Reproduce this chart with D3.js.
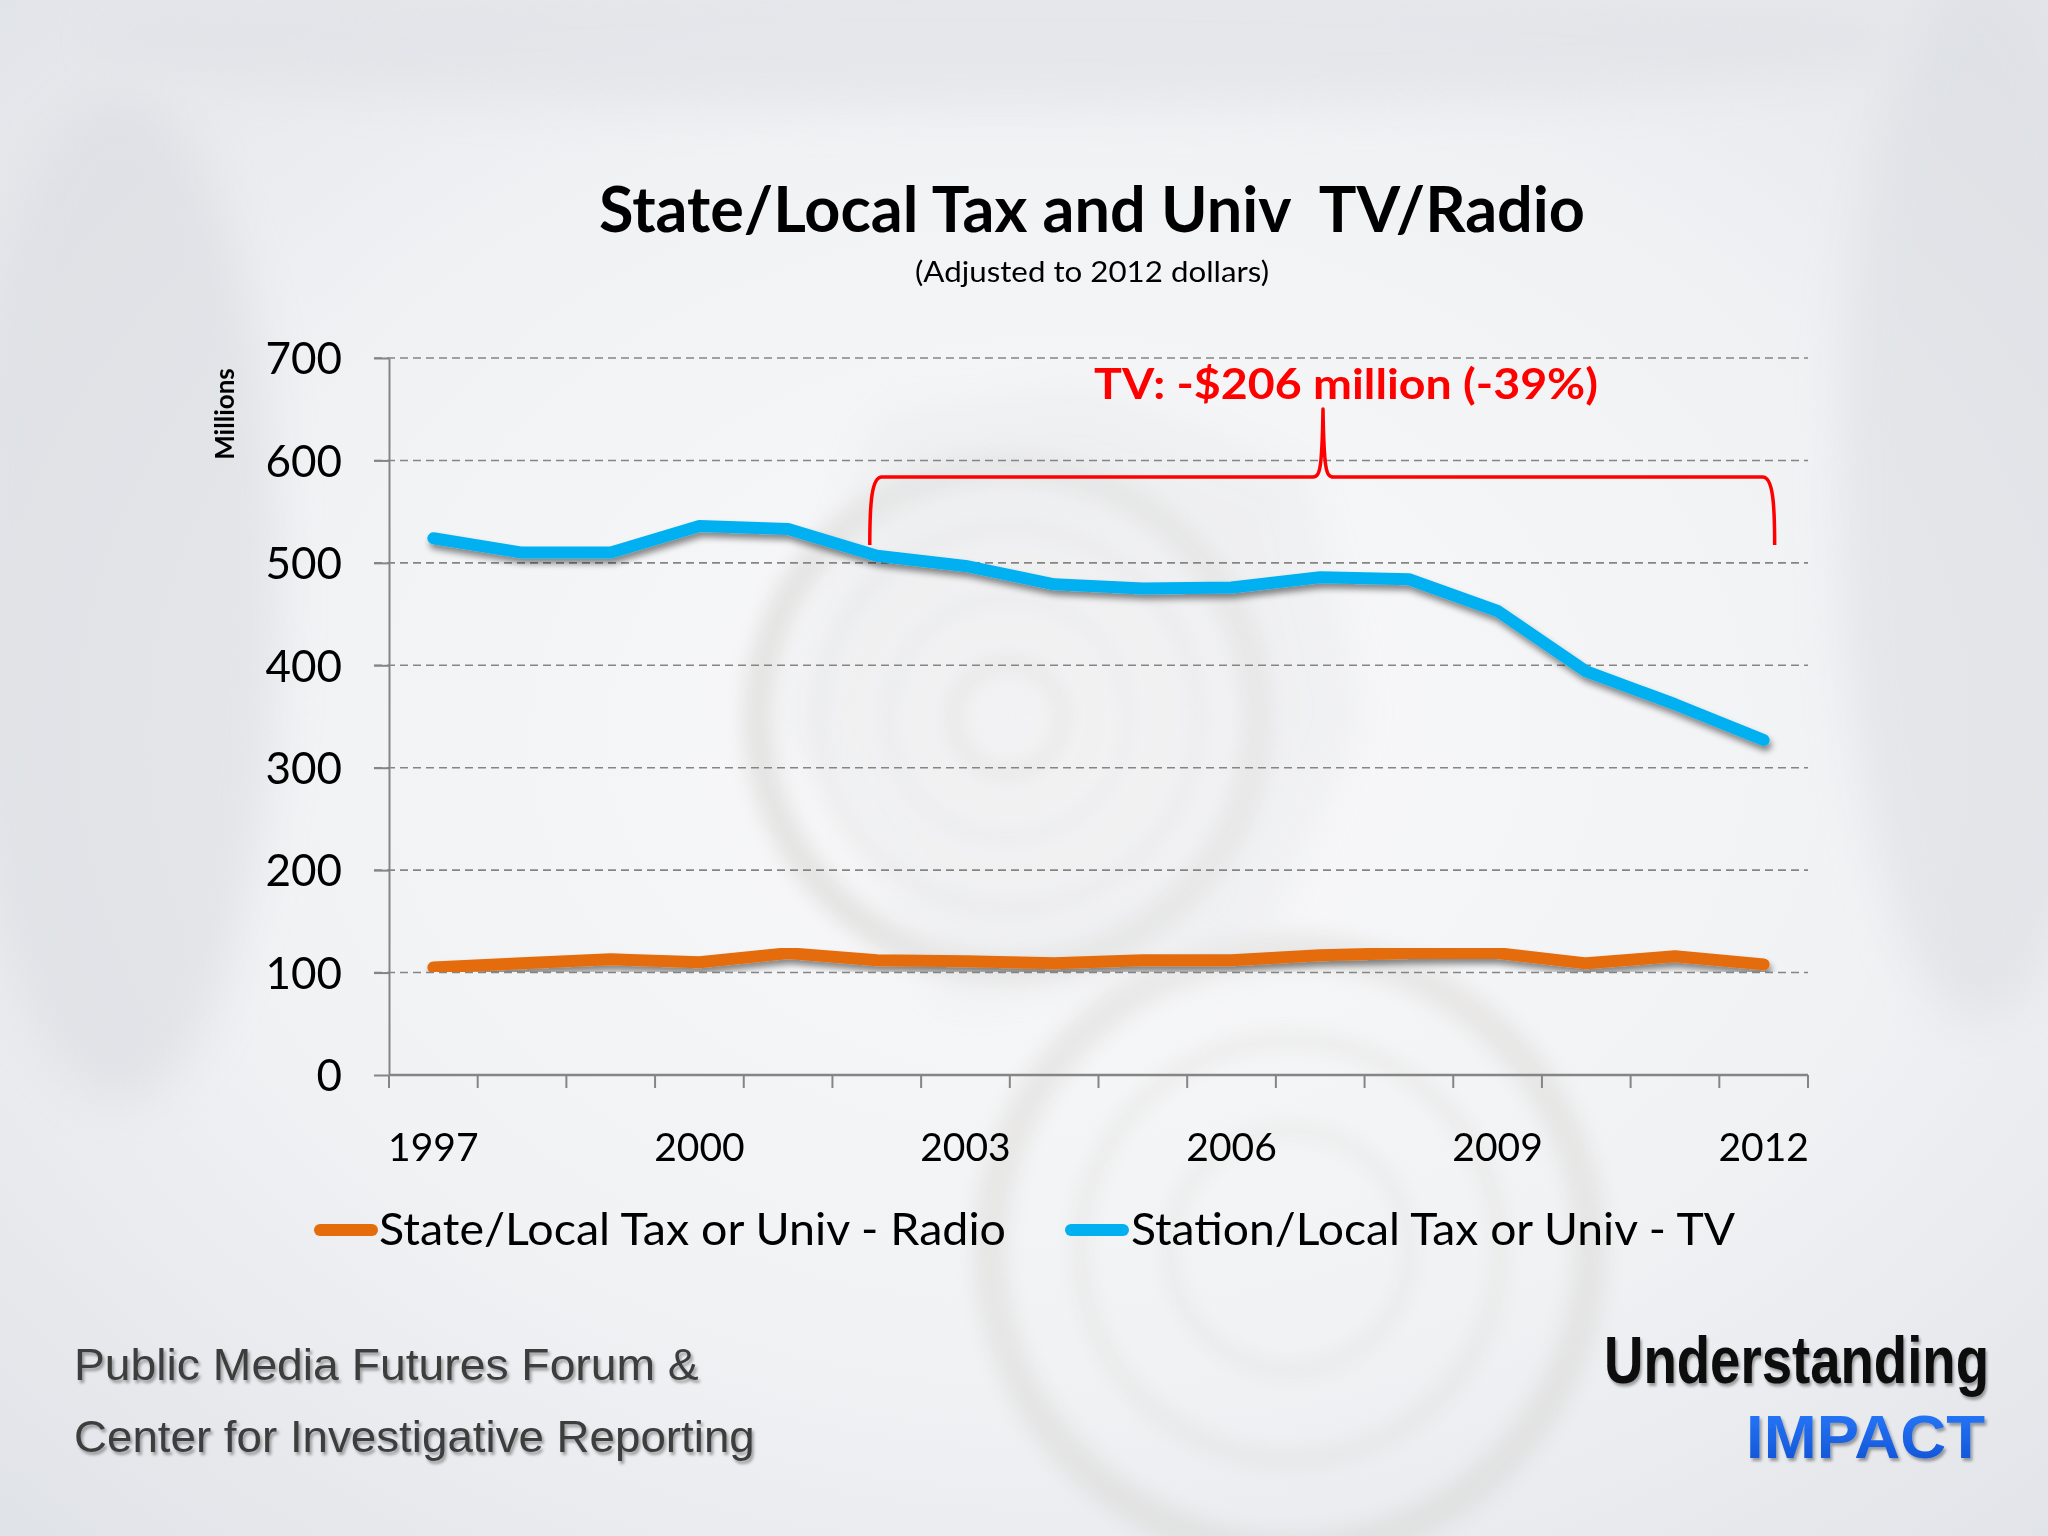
<!DOCTYPE html>
<html>
<head>
<meta charset="utf-8">
<script src="https://cdn.jsdelivr.net/npm/d3@7"></script>
<style>
  html, body { margin: 0; padding: 0; background: #eceef1; }
  svg { display: block; }
</style>
</head>
<body>
<svg id="chart" width="2048" height="1536"></svg>
<script>
// ---------------- DATA ----------------
const years = ["1997","1998","1999","2000","2001","2002","2003","2004","2005","2006","2007","2008","2009","2010","2011","2012"];
const radioValues = [105, 109, 113, 110, 119, 112, 111, 109, 112, 112, 117, 119, 119, 109, 116, 108];
const tvValues    = [524, 510, 510, 536, 533, 507, 497, 479, 475, 476, 486, 484, 453, 394, 362, 327];
const yTickValues = [0, 100, 200, 300, 400, 500, 600, 700];
const xTickLabels = ["1997","2000","2003","2006","2009","2012"];
const seriesNames = ["State/Local Tax or Univ - Radio", "Station/Local Tax or Univ - TV"];
const seriesColors = ["#e46c0a", "#00b0f0"];
const titleText = "State/Local Tax and Univ\u00a0\u00a0TV/Radio";
const subtitleText = "(Adjusted to 2012 dollars)";
const yAxisTitle = "Millions";
const annotationText = "TV: -$206 million (-39%)";
const annotationFrom = "2002", annotationTo = "2012";
const footerLines = ["Public Media Futures Forum &", "Center for Investigative Reporting"];
const logoLines = ["Understanding", "IMPACT"];

// ---------------- SETUP ----------------
const svg = d3.select("#chart");
const W = 2048, H = 1536;
const plot = { left: 389, right: 1808, top: 358, bottom: 1075 };
const FONT = "Lato, 'Open Sans', sans-serif";

const defs = svg.append("defs");

const bg = defs.append("radialGradient").attr("id", "bgGrad")
  .attr("cx", "52%").attr("cy", "48%").attr("r", "75%");
bg.append("stop").attr("offset", "0%").attr("stop-color", "#f9f9fa");
bg.append("stop").attr("offset", "55%").attr("stop-color", "#f1f2f4");
bg.append("stop").attr("offset", "100%").attr("stop-color", "#dfe2e7");

const blur8 = defs.append("filter").attr("id", "blur8").attr("x", "-50%").attr("y", "-50%").attr("width", "200%").attr("height", "200%");
blur8.append("feGaussianBlur").attr("stdDeviation", 9);
const blur20 = defs.append("filter").attr("id", "blur20").attr("x", "-50%").attr("y", "-50%").attr("width", "200%").attr("height", "200%");
blur20.append("feGaussianBlur").attr("stdDeviation", 22);

const shadow = defs.append("filter").attr("id", "lineShadow").attr("x", "-10%").attr("y", "-30%").attr("width", "120%").attr("height", "160%");
shadow.append("feDropShadow").attr("dx", 2).attr("dy", 5).attr("stdDeviation", 3)
  .attr("flood-color", "#000").attr("flood-opacity", 0.45);

const textShadow = defs.append("filter").attr("id", "textShadow")
  .attr("x", "-10%").attr("y", "-40%").attr("width", "120%").attr("height", "180%");
textShadow.append("feDropShadow").attr("dx", 2).attr("dy", 3).attr("stdDeviation", 1.5)
  .attr("flood-color", "#000").attr("flood-opacity", 0.35);

const impactGrad = defs.append("linearGradient").attr("id", "impactGrad").attr("x1", 0).attr("y1", 0).attr("x2", 0).attr("y2", 1);
impactGrad.append("stop").attr("offset", "0%").attr("stop-color", "#2a7dff");
impactGrad.append("stop").attr("offset", "100%").attr("stop-color", "#0f4fd0");

// background
svg.append("rect").attr("width", W).attr("height", H).attr("fill", "url(#bgGrad)");
const deco = svg.append("g").attr("opacity", 0.5);
deco.append("ellipse").attr("cx", 120).attr("cy", 600).attr("rx", 160).attr("ry", 500).attr("fill", "#d6d9df").attr("filter", "url(#blur20)");
deco.append("ellipse").attr("cx", 1980).attr("cy", 500).attr("rx", 140).attr("ry", 520).attr("fill", "#d8dbe1").attr("filter", "url(#blur20)");
deco.append("ellipse").attr("cx", 1000).attr("cy", 40).attr("rx", 900).attr("ry", 70).attr("fill", "#dcdfe4").attr("filter", "url(#blur20)");
const rings = svg.append("g").attr("opacity", 0.28);
const ring1 = rings.append("g").attr("filter", "url(#blur8)");
[[1008, 718, 250, 30, "#b9b8b0"], [1008, 718, 190, 10, "#cfcdc6"], [1008, 718, 120, 10, "#d3d1ca"],
 [1008, 718, 55, 14, "#bdb9ae"], [1008, 718, 15, 10, "#ffffff"]].forEach(d => {
  ring1.append("circle").attr("cx", d[0]).attr("cy", d[1]).attr("r", d[2])
    .attr("fill", "none").attr("stroke", d[4]).attr("stroke-width", d[3]);
});
const ring2 = rings.append("g").attr("filter", "url(#blur8)");
[[1290, 1250, 300, 34, "#c9c7c0"], [1290, 1250, 210, 14, "#d3d1ca"], [1290, 1250, 120, 12, "#d6d4ce"]].forEach(d => {
  ring2.append("circle").attr("cx", d[0]).attr("cy", d[1]).attr("r", d[2])
    .attr("fill", "none").attr("stroke", d[4]).attr("stroke-width", d[3]);
});
rings.append("path").attr("d", "M880,420 L1080,390 L1300,470 L1360,720 L1250,960 L950,1000 L780,720 Z")
  .attr("fill", "#c8cace").attr("opacity", 0.5).attr("filter", "url(#blur20)");

// Fit a text to a target width with a horizontal scale transform (keeps glyph box consistent)
function fitScale(parent, px, py, anchor, width, attrs, str) {
  const g = parent.append("g").attr("transform", `translate(${px},${py})`);
  const t = g.append("text").attr("x", 0).attr("y", 0).attr("text-anchor", anchor);
  Object.entries(attrs).forEach(([k, v]) => t.attr(k, v));
  t.text(str);
  const w = t.node().getComputedTextLength();
  if (w > 0) t.attr("transform", `scale(${width / w},1)`);
  return g;
}
function fit(sel, width) {
  sel.attr("textLength", width).attr("lengthAdjust", "spacingAndGlyphs");
  return sel;
}

// ---------------- SCALES ----------------
const x = d3.scaleBand().domain(years).range([plot.left, plot.right]).padding(0);
const y = d3.scaleLinear().domain([0, 700]).range([plot.bottom, plot.top]);
const cx = d => x(d) + x.bandwidth() / 2;

// ---------------- TITLE ----------------
fit(svg.append("text").attr("x", 1092).attr("y", 232).attr("text-anchor", "middle")
  .attr("font-family", FONT).attr("font-weight", 700).attr("font-size", 64).attr("fill", "#000")
  .text(titleText), 986);
fit(svg.append("text").attr("x", 1092).attr("y", 282).attr("text-anchor", "middle")
  .attr("font-family", FONT).attr("font-size", 28).attr("fill", "#000")
  .text(subtitleText), 354);

// ---------------- GRID ----------------
svg.append("g").selectAll("line").data(yTickValues.filter(v => v > 0)).join("line")
  .attr("x1", plot.left - 15).attr("x2", plot.right)
  .attr("y1", d => y(d)).attr("y2", d => y(d))
  .attr("stroke", "#858585").attr("stroke-width", 1.6).attr("stroke-dasharray", "8,5");

// ---------------- Y AXIS ----------------
const yAxis = svg.append("g").attr("transform", `translate(${plot.left},0)`)
  .call(d3.axisLeft(y).tickValues(yTickValues).tickSize(15).tickPadding(32).tickSizeOuter(0));
yAxis.select(".domain").attr("stroke", "#858585").attr("stroke-width", 2);
yAxis.selectAll(".tick line").attr("stroke", "#858585").attr("stroke-width", 2);
yAxis.selectAll(".tick text").attr("font-family", FONT).attr("font-size", 44).attr("fill", "#000").attr("dy", "0.36em");

svg.append("text").attr("transform", "translate(234,414) rotate(-90)").attr("text-anchor", "middle")
  .attr("font-family", FONT).attr("font-weight", 700).attr("font-size", 26).attr("fill", "#000")
  .text(yAxisTitle);

// ---------------- X AXIS ----------------
const xAxisG = svg.append("g").attr("transform", `translate(0,${plot.bottom})`);
xAxisG.append("line").attr("x1", plot.left).attr("x2", plot.right).attr("y1", 0).attr("y2", 0)
  .attr("stroke", "#858585").attr("stroke-width", 2.5);
const boundaries = years.map(d => x(d)).concat([x(years[years.length - 1]) + x.bandwidth()]);
xAxisG.selectAll("line.tk").data(boundaries).join("line").attr("class", "tk")
  .attr("x1", d => d).attr("x2", d => d).attr("y1", 0).attr("y2", 13)
  .attr("stroke", "#858585").attr("stroke-width", 2);
const xLab = svg.append("g").attr("transform", `translate(0,${plot.bottom})`)
  .call(d3.axisBottom(x).tickValues(xTickLabels).tickSize(0).tickSizeOuter(0));
xLab.select(".domain").remove();
xLab.selectAll(".tick text").attr("font-family", FONT).attr("font-size", 39).attr("fill", "#000")
  .attr("y", 86).attr("dy", 0);

// ---------------- LINES ----------------
const line = d3.line().x((d, i) => cx(years[i])).y(d => y(d));
const seriesData = [radioValues, tvValues];
svg.append("g").selectAll("path").data(seriesData).join("path")
  .attr("d", d => line(d))
  .attr("fill", "none")
  .attr("stroke", (d, i) => seriesColors[i])
  .attr("stroke-width", 12)
  .attr("stroke-linejoin", "round")
  .attr("stroke-linecap", "round")
  .attr("filter", "url(#lineShadow)");

// ---------------- ANNOTATION ----------------
const bx0 = cx(annotationFrom) - 7, bx1 = cx(annotationTo) + 11;
const bBottom = 545, bTop = 477, bPeak = 409, bMid = 1323;
const brace = `M${bx0},${bBottom} C${bx0},${bTop + 25} ${bx0 + 2},${bTop} ${bx0 + 12},${bTop}
  L${bMid - 10},${bTop} C${bMid - 3},${bTop} ${bMid - 1},${bTop - 8} ${bMid},${bPeak}
  C${bMid + 1},${bTop - 8} ${bMid + 3},${bTop} ${bMid + 10},${bTop}
  L${bx1 - 12},${bTop} C${bx1 - 2},${bTop} ${bx1},${bTop + 25} ${bx1},${bBottom}`;
svg.append("path").attr("d", brace).attr("fill", "none").attr("stroke", "#ff0000")
  .attr("stroke-width", 3.5).attr("stroke-linejoin", "round");
fit(svg.append("text").attr("x", 1346).attr("y", 399).attr("text-anchor", "middle")
  .attr("font-family", FONT).attr("font-weight", 700).attr("font-size", 42).attr("fill", "#ff0000")
  .text(annotationText), 504);

// ---------------- LEGEND ----------------
const legendItems = [
  { sx: 314, tx: 379, tw: 627 },
  { sx: 1065, tx: 1131, tw: 604 }
];
const lg = svg.append("g");
legendItems.forEach((it, i) => {
  lg.append("line").attr("x1", it.sx + 6).attr("x2", it.sx + 58).attr("y1", 1230).attr("y2", 1230)
    .attr("stroke", seriesColors[i]).attr("stroke-width", 12).attr("stroke-linecap", "round");
  fit(lg.append("text").attr("x", it.tx).attr("y", 1245)
    .attr("font-family", FONT).attr("font-size", 44).attr("fill", "#000")
    .text(seriesNames[i]), it.tw);
});

// ---------------- FOOTER ----------------
const footerFont = "'Liberation Sans', Arial, sans-serif";
const narrowFont = "'Liberation Sans Narrow', 'Liberation Sans', Arial, sans-serif";
fitScale(svg, 74, 1380, "start", 625,
  { "font-family": footerFont, "font-size": 45, "fill": "#3d3d3d", "filter": "url(#textShadow)" }, footerLines[0]);
fitScale(svg, 74, 1452, "start", 681,
  { "font-family": footerFont, "font-size": 45, "fill": "#3d3d3d", "filter": "url(#textShadow)" }, footerLines[1]);
fitScale(svg, 1989, 1383, "end", 385,
  { "font-family": narrowFont, "font-weight": 700, "font-size": 66, "fill": "#0a0a0a", "filter": "url(#textShadow)" }, logoLines[0]);
fitScale(svg, 1985, 1458, "end", 239,
  { "font-family": narrowFont, "font-weight": 700, "font-size": 62, "fill": "url(#impactGrad)", "filter": "url(#textShadow)" }, logoLines[1]);
</script>
</body>
</html>
